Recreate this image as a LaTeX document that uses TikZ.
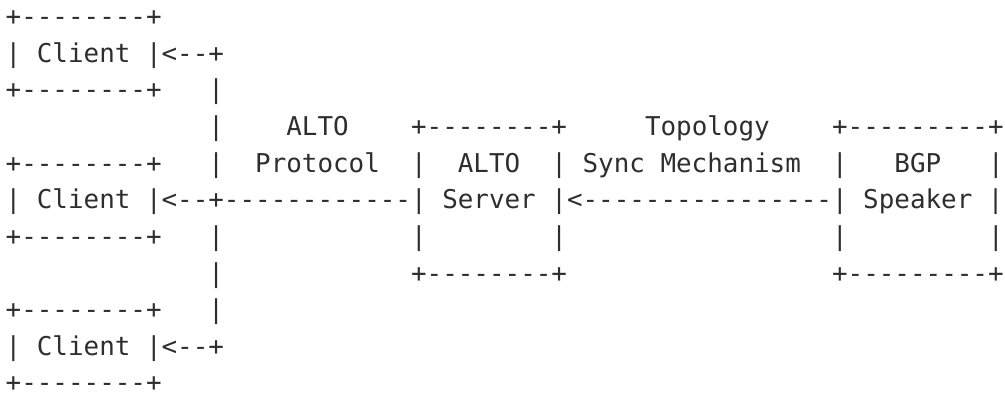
\documentclass[tikz,border=0pt]{standalone}
\usepackage{fontspec}
\setmonofont{DejaVu Sans Mono}[WordSpace={1,0,0},PunctuationSpace=WordSpace]
\definecolor{ink}{HTML}{2E2E2E}
\begin{document}
\begin{tikzpicture}[x=1pt,y=-1pt,
  asc/.style={anchor=base west, inner sep=0pt, outer sep=0pt, text=ink,
    font=\ttfamily\fontsize{25.9pt}{36.6pt}\selectfont}]
\useasboundingbox (0,0) rectangle (1005,396);
\node[asc] (l1)  at (5.7, 25.8) {+--------+};
\node[asc] (l2)  at (5.7, 62.4) {|~Client~|<--+};
\node[asc] (l3)  at (5.7, 99.0) {+--------+~~~|};
\node[asc] (l4)  at (5.7,135.6) {~~~~~~~~~~~~~|~~~~ALTO~~~~+--------+~~~~~Topology~~~~+---------+};
\node[asc] (l5)  at (5.7,172.2) {+--------+~~~|~~Protocol~~|~~ALTO~~|~Sync~Mechanism~~|~~~BGP~~~|};
\node[asc] (l6)  at (5.7,208.8) {|~Client~|<--+------------|~Server~|<----------------|~Speaker~|};
\node[asc] (l7)  at (5.7,245.4) {+--------+~~~|~~~~~~~~~~~~|~~~~~~~~|~~~~~~~~~~~~~~~~~|~~~~~~~~~|};
\node[asc] (l8)  at (5.7,282.0) {~~~~~~~~~~~~~|~~~~~~~~~~~~+--------+~~~~~~~~~~~~~~~~~+---------+};
\node[asc] (l9)  at (5.7,318.6) {+--------+~~~|};
\node[asc] (l10) at (5.7,355.2) {|~Client~|<--+};
\node[asc] (l11) at (5.7,391.8) {+--------+};
\end{tikzpicture}
\end{document}
